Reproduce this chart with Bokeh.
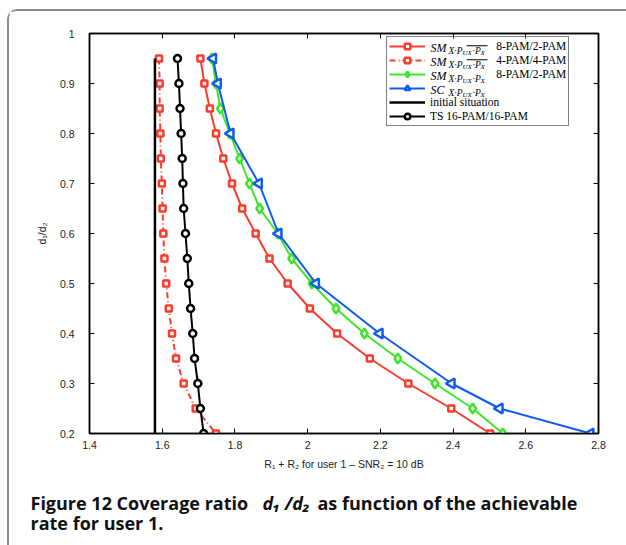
import numpy as np
from bokeh.plotting import figure
from bokeh.layouts import column
from bokeh.models import (Range1d, LinearAxis, FixedTicker, Legend, LegendItem,
                          Label, BoxAnnotation)
from bokeh.embed import file_html
from bokeh.resources import INLINE

# ---------------- data ----------------
ratio = [0.95, 0.9, 0.85, 0.8, 0.75, 0.7, 0.65, 0.6, 0.55, 0.5,
         0.45, 0.4, 0.35, 0.3, 0.25, 0.2]
sm_8pam_2pam = [1.705, 1.716, 1.731, 1.748, 1.768, 1.792, 1.820, 1.857, 1.895,
                1.945, 2.006, 2.081, 2.171, 2.277, 2.395, 2.502]
sm_4pam_4pam = [1.591, 1.593, 1.593, 1.595, 1.596, 1.599, 1.601, 1.603, 1.606,
                1.611, 1.618, 1.627, 1.638, 1.659, 1.692, 1.748]
sm_full_8pam_2pam = [1.737, 1.748, 1.760, 1.786, 1.813, 1.840, 1.868, 1.918, 1.956,
                     2.012, 2.078, 2.156, 2.248, 2.350, 2.454, 2.537]
sc_ratio = [0.95, 0.9, 0.8, 0.7, 0.6, 0.5, 0.4, 0.3, 0.25, 0.2]
sc_rate = [1.740, 1.753, 1.788, 1.866, 1.920, 2.023, 2.198, 2.396, 2.528, 2.778]
initial_ratio = [0.2, 0.95]
initial_rate = [1.58, 1.58]
ts_16pam = [1.642, 1.646, 1.649, 1.652, 1.655, 1.657, 1.659, 1.664, 1.669,
            1.673, 1.678, 1.684, 1.689, 1.698, 1.705, 1.714]

x_ticks = [1.4, 1.6, 1.8, 2.0, 2.2, 2.4, 2.6, 2.8]
y_ticks = [0.2, 0.3, 0.4, 0.5, 0.6, 0.7, 0.8, 0.9, 1.0]

RED = "#fa3c2c"
GREEN = "#40e42c"
BLUE = "#0f5af0"
BLACK = "#000000"

# page geometry (canvas starts at page x=9, y=11 because of margin + border)
OX, OY = 9, 11
FL, FT, FR, FB = 89, 33, 598, 433
PLOT_H = 469

# ---------------- figure ----------------
p = figure(width=617, height=PLOT_H, x_range=Range1d(1.4, 2.8), y_range=Range1d(0.2, 1.0),
           output_backend="svg", toolbar_location=None,
           min_border_left=FL - OX, min_border_right=626 - FR,
           min_border_top=FT - OY, min_border_bottom=PLOT_H - (FB - OY))
p.frame_align = False
p.background_fill_color = "white"
p.border_fill_color = "white"
p.outline_line_color = "black"
p.outline_line_width = 1.5
p.grid.visible = False

TICK_FONT = "Liberation Sans"

def style_axis(ax, ticks, labels=True):
    ax.axis_line_color = "black"
    ax.axis_line_width = 1.5
    ax.major_tick_in = 5
    ax.major_tick_out = 0
    ax.major_tick_line_color = "black"
    ax.major_tick_line_width = 1
    ax.minor_tick_in = 0
    ax.minor_tick_out = 0
    ax.minor_tick_line_color = None
    if labels:
        ax.major_label_text_font = TICK_FONT
        ax.major_label_text_font_size = "10.5px"
        ax.major_label_text_color = "#222222"
    else:
        ax.major_label_overrides = {t: "" for t in ticks}
        ax.major_label_standoff = 0

p.xaxis.ticker = FixedTicker(ticks=x_ticks)
p.yaxis.ticker = FixedTicker(ticks=y_ticks)
style_axis(p.xaxis[0], x_ticks)
style_axis(p.yaxis[0], y_ticks)
p.xaxis.major_label_overrides = {2.0: "2"}
p.yaxis.major_label_overrides = {1.0: "1"}
p.xaxis.major_label_standoff = 7
p.yaxis.major_label_standoff = 15

p.xaxis.axis_label = "R\u2081 + R\u2082 for user 1 \u2013 SNR\u2082 = 10 dB"
p.yaxis.axis_label = "d\u2081/d\u2082"
for ax in (p.xaxis[0], p.yaxis[0]):
    ax.axis_label_text_font = TICK_FONT
    ax.axis_label_text_font_size = "10.5px"
    ax.axis_label_text_font_style = "normal"
    ax.axis_label_text_color = "#222222"
p.xaxis.axis_label_standoff = 6
p.yaxis.axis_label_standoff = 9

top_ax = LinearAxis(ticker=FixedTicker(ticks=x_ticks))
right_ax = LinearAxis(ticker=FixedTicker(ticks=y_ticks))
style_axis(top_ax, x_ticks, labels=False)
style_axis(right_ax, y_ticks, labels=False)
p.add_layout(top_ax, "above")
p.add_layout(right_ax, "right")

# ---------------- series ----------------
LW = 2
r1l = p.line(sm_8pam_2pam, ratio, line_color=RED, line_width=LW)
r1m = p.scatter(sm_8pam_2pam, ratio, marker="square", size=6, line_color=RED,
                line_width=2.5, fill_color="white")

r2l = p.line(sm_4pam_4pam, ratio, line_color=RED, line_width=LW, line_dash="6 3 1 3")
r2m = p.scatter(sm_4pam_4pam, ratio, marker="square", size=6, line_color=RED,
                line_width=2.5, fill_color="white")

r3l = p.line(sm_full_8pam_2pam, ratio, line_color=GREEN, line_width=LW)
r3m = p.scatter(sm_full_8pam_2pam, ratio, marker="diamond", size=10, line_color=GREEN,
                line_width=2.5, fill_color="white")

r4l = p.line(sc_rate, sc_ratio, line_color=BLUE, line_width=LW)
r4m = p.scatter(sc_rate, sc_ratio, marker="triangle", size=10, angle=np.pi / 2,
                line_color=BLUE, line_width=2.5, fill_color="white")

r5l = p.line(initial_rate, initial_ratio, line_color=BLACK, line_width=2.5)

r6l = p.line(ts_16pam, ratio, line_color=BLACK, line_width=LW)
r6m = p.scatter(ts_16pam, ratio, marker="circle", size=7, line_color=BLACK,
                line_width=2.5, fill_color="white")

# ---------------- legend ----------------
NB = "\u00a0"
pad = NB * 23
LEG_TOP, LEG_BOTTOM = 38, 126
legend = Legend(items=[
    LegendItem(label=pad + "8-PAM/2-PAM", renderers=[r1l, r1m]),
    LegendItem(label=pad + "4-PAM/4-PAM", renderers=[r2l, r2m]),
    LegendItem(label=pad + "8-PAM/2-PAM", renderers=[r3l, r3m]),
    LegendItem(label=NB, renderers=[r4l, r4m]),
    LegendItem(label="initial situation", renderers=[r5l]),
    LegendItem(label="TS 16-PAM/16-PAM", renderers=[r6l, r6m]),
], location=(386 - FL, FB - LEG_BOTTOM))
legend.label_text_font = "Liberation Serif"
legend.label_text_font_size = "11.5px"
legend.label_text_color = "black"
legend.label_height = 14
legend.glyph_height = 14
legend.glyph_width = 36
legend.label_standoff = 5
legend.spacing = 0
legend.padding = 2
legend.margin = 0
legend.border_line_color = "black"
legend.border_line_width = 1
legend.background_fill_alpha = 0
p.add_layout(legend)

# helpers: page pixel -> data coordinates (for positioning texts only)
def dx(px):
    return 1.4 + (px - FL) * (2.8 - 1.4) / (FR - FL)
def dy(py):
    return 0.2 + (FB - py) * (1.0 - 0.2) / (FB - FT)

row_c = [LEG_TOP + 2 + 7 + 14 * i for i in range(6)]
heads = ["SM", "SM", "SM", "SC"]
def add_text(fig, x, y, text, size, style="italic", font="Liberation Serif",
             baseline="middle", color="black"):
    fig.add_layout(Label(x=x, y=y, text=text, text_font=font,
                         text_font_style=style, text_font_size=size,
                         text_baseline=baseline, text_color=color))

for i, h in enumerate(heads):
    cy = row_c[i]
    add_text(p, dx(430), dy(cy), h, "12px")
    add_text(p, dx(448), dy(cy + 3), "X\u00b7P", "9.5px")
    add_text(p, dx(462), dy(cy + 5), "UX", "7px")
    add_text(p, dx(472), dy(cy + 3), "\u00b7P", "9.5px")
    add_text(p, dx(480), dy(cy + 5), "X", "7px")
    if i < 2:
        p.add_layout(BoxAnnotation(left=dx(466), right=dx(487), top=dy(cy - 2.2),
                                   bottom=dy(cy - 1.2), fill_color="black", fill_alpha=1,
                                   line_color=None))

# ---------------- caption (second figure in page-pixel coordinates) ----------------
CAP_H = 545 - OY - PLOT_H
SHIFT = 7
cap = figure(width=617, height=CAP_H, x_range=Range1d(OX, 626),
             y_range=Range1d(545 + SHIFT, OY + PLOT_H + SHIFT),
             output_backend="svg", toolbar_location=None,
             min_border_left=0, min_border_right=0, min_border_top=0, min_border_bottom=0,
             x_axis_type=None, y_axis_type=None)
cap.frame_align = False
cap.outline_line_color = None
cap.grid.visible = False
cap.background_fill_color = "white"
cap.border_fill_color = "white"

CAP_FONT = "Open Sans"
cap_parts = [
    ("Figure 12 Coverage ratio", 30, 509, "bold"),
    ("d\u2081 /d\u2082", 262, 509, "bold italic"),
    ("as function of the achievable", 317, 509, "bold"),
    ("rate for user 1.", 30, 529, "bold"),
]
for txt, px, py, style in cap_parts:
    add_text(cap, px, py, txt, "18px", style=style, font=CAP_FONT, baseline="alphabetic",
             color="#111111")

layout = column(p, cap, spacing=0, margin=(OY - 2, 0, 0, OX - 2))
layout.styles = {"border-left": "2px solid #8c8c8c", "border-top": "2px solid #8c8c8c",
                 "border-top-left-radius": "10px"}

open("out.html", "w").write(file_html(layout, INLINE))
